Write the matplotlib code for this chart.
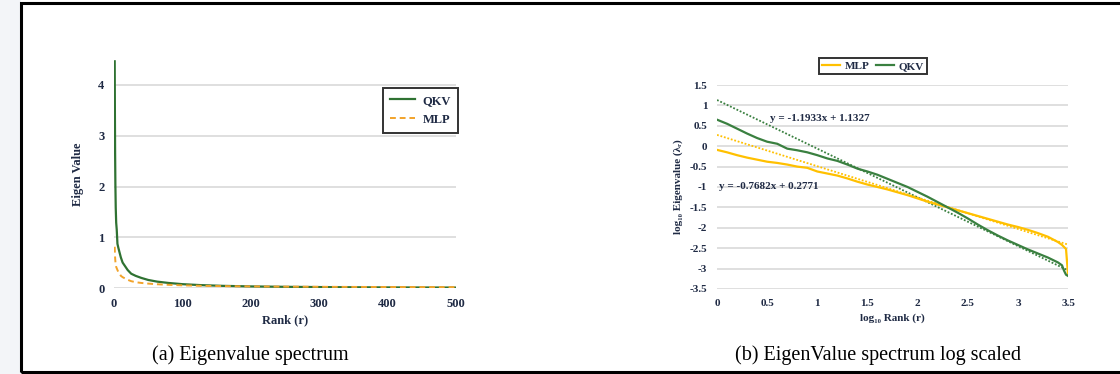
import numpy as np
import matplotlib
matplotlib.use("Agg")
import matplotlib.pyplot as plt
from matplotlib.patches import Rectangle

# ---- data ----
log_rank = [0.0, 0.1, 0.2, 0.3, 0.4, 0.5, 0.6, 0.7, 0.8, 0.9, 1.0, 1.1, 1.2, 1.3,
            1.4, 1.5, 1.6, 1.7, 1.8, 1.9, 2.0, 2.1, 2.2, 2.3, 2.4, 2.5, 2.6, 2.7,
            2.8, 2.9, 3.0, 3.1, 3.2, 3.3, 3.4, 3.44, 3.46, 3.48, 3.5]
qkv_log = [0.65, 0.55, 0.43, 0.31, 0.2, 0.11, 0.06, -0.06, -0.1, -0.15, -0.22, -0.3,
           -0.36, -0.45, -0.55, -0.62, -0.7, -0.8, -0.9, -1.0, -1.12, -1.24, -1.37,
           -1.5, -1.63, -1.77, -1.92, -2.06, -2.19, -2.31, -2.42, -2.53, -2.63,
           -2.73, -2.85, -2.92, -3.05, -3.15, -3.18]
mlp_log = [-0.09, -0.15, -0.22, -0.28, -0.33, -0.38, -0.41, -0.45, -0.5, -0.53,
           -0.62, -0.67, -0.72, -0.79, -0.87, -0.94, -1.0, -1.06, -1.13, -1.2,
           -1.28, -1.36, -1.43, -1.5, -1.57, -1.64, -1.71, -1.78, -1.85, -1.92,
           -1.98, -2.05, -2.13, -2.22, -2.35, -2.42, -2.47, -2.52, -3.15]
qkv_fit = [-1.1933, 1.1327]
mlp_fit = [-0.7682, 0.2771]
left_xticks = [0, 100, 200, 300, 400, 500]
left_yticks = [0, 1, 2, 3, 4]
right_xticks = [0, 0.5, 1, 1.5, 2, 2.5, 3, 3.5]
right_yticks = [1.5, 1, 0.5, 0, -0.5, -1, -1.5, -2, -2.5, -3, -3.5]

GREEN = "#2f7232"
GREEN_R = "#3a8040"
ORANGE = "#f2a32a"
GOLD = "#ffc000"
NAVY = "#1f2a44"
GRID = "#d9d9d9"
SERIF = ["Liberation Serif", "DejaVu Serif"]

plt.rcParams["font.family"] = SERIF

fig = plt.figure(figsize=(11.2, 3.74), dpi=100)
fig.patch.set_facecolor("white")

# background strip & frame
fig.add_artist(Rectangle((0, 0), 0.0188, 1, transform=fig.transFigure,
                         facecolor="#f3f5f8", edgecolor="none", zorder=-5))
fig.add_artist(Rectangle((0.0188, 0.005), 1.2, 0.987, transform=fig.transFigure,
                         facecolor="none", edgecolor="black", linewidth=2.2, zorder=5))

rank = 10 ** np.array(log_rank)
qkv = 10 ** np.array(qkv_log)
mlp = 10 ** np.array(mlp_log)

tick_font = dict(fontweight="bold", color=NAVY)

# ---------- left ----------
ax1 = fig.add_axes([0.1018, 0.2299, 0.3053, 0.6107])
ax1.plot(rank, qkv, color=GREEN, lw=1.6, label="QKV", zorder=3)
ax1.plot(rank, mlp, color=ORANGE, lw=1.4, ls=(0, (3, 2)), label="MLP", zorder=3)
ax1.set_xlim(0, 500)
ax1.set_ylim(0, 4.5)
ax1.set_xticks(left_xticks)
ax1.set_yticks(left_yticks)
ax1.grid(axis="y", color=GRID, lw=1.2)
for s in ax1.spines.values():
    s.set_visible(False)
ax1.tick_params(length=0, pad=7, labelsize=9)
for lab in ax1.get_xticklabels() + ax1.get_yticklabels():
    lab.set_fontweight("bold"); lab.set_color(NAVY)
ax1.set_xlabel("Rank (r)", fontsize=9, labelpad=3, **tick_font)
ax1.set_ylabel("Eigen Value", fontsize=9, labelpad=10, **tick_font)
leg1 = fig.legend(*ax1.get_legend_handles_labels(), loc="upper right",
                  bbox_to_anchor=(0.409, 0.765), frameon=True, fancybox=False,
                  prop=dict(family=SERIF, weight="bold", size=9),
                  handlelength=2.0, handletextpad=0.6, borderpad=0.55,
                  labelspacing=0.55, borderaxespad=0)
leg1.get_frame().set_edgecolor("black")
leg1.get_frame().set_linewidth(1.4)
for t in leg1.get_texts():
    t.set_color(NAVY)

# ---------- right ----------
ax2 = fig.add_axes([0.6402, 0.2273, 0.3134, 0.5454])
xx = np.array([0, 3.5])
ax2.plot(xx, np.polyval(qkv_fit, xx), color=GREEN_R, lw=1.3, ls=(0, (1, 1)), zorder=2)
ax2.plot(xx, np.polyval(mlp_fit, xx), color=GOLD, lw=1.3, ls=(0, (1, 1)), zorder=2)
ax2.plot(log_rank, mlp_log, color=GOLD, lw=1.6, label="MLP", zorder=3)
ax2.plot(log_rank, qkv_log, color=GREEN_R, lw=1.6, label="QKV", zorder=3)
ax2.set_xlim(0, 3.5)
ax2.set_ylim(-3.5, 1.5)
ax2.set_xticks(right_xticks)
ax2.set_xticklabels(["0", "0.5", "1", "1.5", "2", "2.5", "3", "3.5"])
ax2.set_yticks(right_yticks)
ax2.set_yticklabels(["1.5", "1", "0.5", "0", "-0.5", "-1", "-1.5", "-2", "-2.5", "-3", "-3.5"])
ax2.grid(axis="y", color=GRID, lw=1.2)
for s in ax2.spines.values():
    s.set_visible(False)
ax2.tick_params(length=0, pad=7, labelsize=8)
for lab in ax2.get_xticklabels() + ax2.get_yticklabels():
    lab.set_fontweight("bold"); lab.set_color(NAVY)
ax2.set_xlabel("log\u2081\u2080 Rank (r)", fontsize=8, labelpad=4, **tick_font)
ax2.set_ylabel("log\u2081\u2080 Eigenvalue (\u03bb\u1d63)", fontsize=8, labelpad=5, **tick_font)
ax2.text(0.53, 0.68, "y = -1.1933x + 1.1327", fontsize=8, va="center", ha="left", **tick_font)
ax2.text(0.02, -0.99, "y = -0.7682x + 0.2771", fontsize=8, va="center", ha="left", **tick_font)
leg2 = fig.legend(*ax2.get_legend_handles_labels(), loc="center",
                  bbox_to_anchor=(0.7795, 0.8235), ncol=2, frameon=True, fancybox=False,
                  prop=dict(family=SERIF, weight="bold", size=8),
                  handlelength=1.6, handletextpad=0.4, columnspacing=0.6,
                  borderpad=0.3)
leg2.get_frame().set_edgecolor("black")
leg2.get_frame().set_linewidth(1.4)
for t in leg2.get_texts():
    t.set_color(NAVY)

# captions
fig.text(250 / 1120, 1 - 355 / 374, "(a) Eigenvalue spectrum", ha="center", va="center",
         fontsize=14.5, color="black")
fig.text(878 / 1120, 1 - 355 / 374, "(b) EigenValue spectrum log scaled", ha="center",
         va="center", fontsize=14.5, color="black")

fig.savefig("out.png", dpi=100, facecolor=fig.get_facecolor())
